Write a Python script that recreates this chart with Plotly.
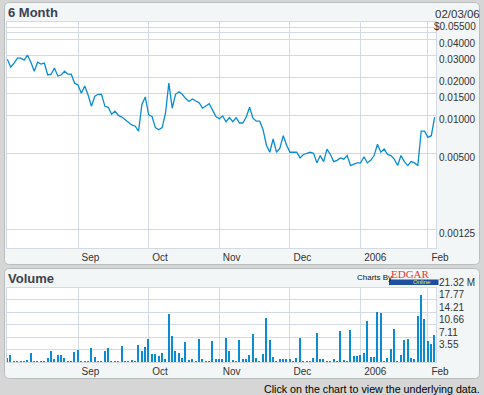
import math
import plotly.graph_objects as go

W, H = 484, 395

# ---- data (trading days Aug 3, 2005 .. Feb 3, 2006) ----
prices = [0.0279,0.0241,0.0260,0.0284,0.0284,0.0274,0.0300,0.0264,0.0224,0.0264,
          0.0255,0.0260,0.0209,0.0212,0.0237,0.0205,0.0209,0.0224,0.0212,0.0212,
          0.0180,0.0174,0.0150,0.0171,0.0145,0.0118,0.0142,0.0147,0.0147,0.0118,
          0.0116,0.0102,0.0108,0.0100,0.0097,0.0092,0.0087,0.0084,0.0082,0.0075,
          0.0122,0.0140,0.0101,0.0098,0.0080,0.0077,0.0080,0.0104,0.0180,0.0114,
          0.0147,0.0154,0.0147,0.0136,0.0129,0.0135,0.0130,0.0126,0.0114,0.0118,
          0.0124,0.0110,0.0098,0.0094,0.0099,0.0089,0.0096,0.0089,0.0096,0.0087,
          0.0087,0.0097,0.0116,0.0095,0.0090,0.0090,0.0077,0.0058,0.0051,0.0065,
          0.0051,0.0055,0.0069,0.0058,0.0051,0.0051,0.0051,0.0046,0.0049,0.0050,
          0.0051,0.0050,0.0042,0.0048,0.0043,0.0054,0.0049,0.0043,0.0044,0.0046,
          0.0045,0.0048,0.0040,0.0041,0.0042,0.0042,0.0047,0.0042,0.0044,0.0048,
          0.0059,0.0051,0.0054,0.0049,0.0048,0.0045,0.0040,0.0048,0.0043,0.0040,
          0.0043,0.0042,0.0040,0.0075,0.0075,0.0067,0.0069,0.0097]

volumes_m = [1.22,2.08,0.46,0.46,0.46,0.46,0.84,2.64,0.46,0.46,
             0.46,0.46,1.22,3.21,1.03,2.08,2.08,1.22,0.46,0.46,
             2.93,3.50,0.46,0.46,0.46,4.07,1.51,0.46,0.46,3.21,
             4.07,0.46,0.46,0.46,4.64,0.46,0.46,0.65,0.46,4.92,
             3.21,4.35,6.63,2.36,2.36,1.79,2.64,0.94,14.02,7.48,
             3.21,2.64,1.22,5.77,0.75,0.94,0.46,6.63,0.94,0.46,
             0.46,6.06,0.94,0.94,0.94,6.91,3.21,0.65,0.46,6.34,
             0.94,0.94,2.08,8.05,1.22,0.46,2.36,12.60,6.34,1.51,
             0.46,0.94,0.94,0.94,0.94,0.46,1.22,6.91,0.46,0.46,
             0.46,1.22,8.34,0.94,0.94,0.46,0.46,0.94,0.46,8.90,
             0.65,0.46,9.19,1.79,1.79,2.08,2.64,11.93,1.51,1.51,
             14.59,14.31,0.46,1.22,3.78,9.47,0.46,2.08,6.34,6.63,
             1.22,0.94,13.45,19.42,12.31,6.06,5.20,7.86]

month_idx = [21, 42, 63, 84, 105, 125]
month_labels = ["Sep", "Oct", "Nov", "Dec", "2006", "Feb"]

price_grid = [0.055, 0.05, 0.045, 0.04, 0.03, 0.02, 0.015, 0.01, 0.005, 0.00125]
price_tick_vals = [0.055, 0.04, 0.03, 0.02, 0.015, 0.01, 0.005, 0.00125]
price_tick_text = ["$0.05500", "0.04000", "0.03000", "0.02000", "0.01500",
                   "0.01000", "0.00500", "0.00125"]

vol_tick_vals = [3.553, 7.107, 10.66, 14.213, 17.767, 21.32]
vol_tick_text = ["3.55", "7.11", "10.66", "14.21", "17.77", "21.32 M"]

date_label = "02/03/06"

# ---- style ----
BLUE = "#0a8cd2"
GRID = "#d3dae4"
PAGE = "#d6d6d6"
PANEL = "#f2f6f6"
PANEL_BORDER = "#b8bdbd"
TXT = "#333333"
TITLE = "#3a4252"
AXFONT = dict(family="Liberation Sans Narrow, Arial Narrow, Liberation Sans, Arial", size=10, color=TXT)

x = list(range(len(prices)))

def px(xp):
    return xp / W

def py(yp):
    return 1 - yp / H

def rrect(x0, y0, x1, y1, r):
    p = lambda a, b: f"{px(a):.5f},{py(b):.5f}"
    return (f"M{p(x0 + r, y0)} L{p(x1 - r, y0)} Q{p(x1, y0)} {p(x1, y0 + r)} "
            f"L{p(x1, y1 - r)} Q{p(x1, y1)} {p(x1 - r, y1)} L{p(x0 + r, y1)} "
            f"Q{p(x0, y1)} {p(x0, y1 - r)} L{p(x0, y0 + r)} Q{p(x0, y0)} {p(x0 + r, y0)} Z")

PL, PR = 7, 436
TOP_Y0, TOP_Y1 = 22, 248
VOL_Y0, VOL_Y1 = 287.5, 362

fig = go.Figure()
fig.add_trace(go.Scatter(x=x, y=prices, mode="lines", line=dict(color=BLUE, width=1.3),
                         xaxis="x", yaxis="y", hoverinfo="skip", showlegend=False))
fig.add_trace(go.Bar(x=x, y=volumes_m, marker=dict(color=BLUE, line=dict(width=0)), width=0.42,
                     xaxis="x2", yaxis="y2", hoverinfo="skip", showlegend=False))

shapes = [
    dict(type="path", path=rrect(4.5, 2.5, 479.5, 264.5, 5), xref="paper", yref="paper",
         fillcolor=PANEL, line=dict(color=PANEL_BORDER, width=1), layer="below"),
    dict(type="path", path=rrect(4.5, 268.5, 479.5, 378.5, 5), xref="paper", yref="paper",
         fillcolor=PANEL, line=dict(color=PANEL_BORDER, width=1), layer="below"),
    dict(type="rect", x0=px(PL), x1=px(PR), y0=py(TOP_Y1), y1=py(TOP_Y0), xref="paper", yref="paper",
         fillcolor="white", line=dict(width=0), layer="below"),
    dict(type="rect", x0=px(PL), x1=px(PR), y0=py(VOL_Y1), y1=py(VOL_Y0), xref="paper", yref="paper",
         fillcolor="white", line=dict(width=0), layer="below"),
    # EDGAR Online bar
    dict(type="rect", x0=px(389), x1=px(438.5), y0=py(285), y1=py(279.5), xref="paper", yref="paper",
         fillcolor="#1e4f9e", line=dict(width=0), layer="above"),
]

annotations = [
    dict(text="<b>6 Month</b>", x=px(5.5), y=py(12.5), xref="paper", yref="paper",
         xanchor="left", yanchor="middle", showarrow=False,
         font=dict(family="Liberation Sans, Arial", size=13, color=TITLE)),
    dict(text=date_label, x=px(482), y=py(14.5), xref="paper", yref="paper",
         xanchor="right", yanchor="middle", showarrow=False,
         font=dict(family="Liberation Sans, Arial", size=11.5, color=TXT)),
    dict(text="<b>Volume</b>", x=px(5.5), y=py(278), xref="paper", yref="paper",
         xanchor="left", yanchor="middle", showarrow=False,
         font=dict(family="Liberation Sans, Arial", size=13, color=TITLE)),
    dict(text="Charts By", x=px(355), y=py(277.5), xref="paper", yref="paper",
         xanchor="left", yanchor="middle", showarrow=False,
         font=dict(family="Liberation Sans, Arial", size=8, color="#111111")),
    dict(text="EDGAR", x=px(388.5), y=py(273.5), xref="paper", yref="paper",
         xanchor="left", yanchor="middle", showarrow=False,
         font=dict(family="Liberation Serif, Times New Roman", size=11, color="#e23b3b")),
    dict(text="Online", x=px(433), y=py(282.3), xref="paper", yref="paper",
         xanchor="right", yanchor="middle", showarrow=False,
         font=dict(family="Liberation Sans, Arial", size=6, color="#e6e640")),
    dict(text="Click on the chart to view the underlying data.", x=px(482), y=py(388.5),
         xref="paper", yref="paper", xanchor="right", yanchor="middle", showarrow=False,
         font=dict(family="Liberation Sans, Arial", size=10.7, color="#000000")),
]
for v, t in zip(price_tick_vals, price_tick_text):
    annotations.append(dict(text=t, x=px(477.5), y=math.log10(v), xref="paper", yref="y",
                            xanchor="right", yanchor="middle", yshift=-4.5, showarrow=False,
                            font=AXFONT))

xcommon = dict(domain=[px(PL), px(PR)], range=[-0.1, 127.4], tickmode="array",
               tickvals=month_idx, ticktext=month_labels, showgrid=True, gridcolor=GRID,
               gridwidth=1, zeroline=False, ticks="", showline=True, linecolor=GRID,
               mirror=True, ticklabelposition="outside right", ticklabelshift=3,
               tickfont=AXFONT, fixedrange=True, automargin=False)

fig.update_layout(
    width=W, height=H, autosize=False,
    margin=dict(l=0, r=0, t=0, b=0, pad=0, autoexpand=False),
    paper_bgcolor=PAGE, plot_bgcolor="rgba(0,0,0,0)",
    showlegend=False, bargap=0,
    xaxis=dict(anchor="y", **xcommon),
    xaxis2=dict(anchor="y2", matches="x", **xcommon),
    yaxis=dict(domain=[py(TOP_Y1), py(TOP_Y0)], type="log",
               range=[-3.0515, math.log10(0.055)], tickmode="array", tickvals=price_grid,
               showticklabels=False, showgrid=True, gridcolor=GRID, zeroline=False,
               ticks="", showline=True, linecolor=GRID, mirror=True, side="right",
               anchor="x", fixedrange=True, automargin=False),
    yaxis2=dict(domain=[py(VOL_Y1), py(VOL_Y0)], range=[0, 21.32], tickmode="array",
                tickvals=vol_tick_vals, ticktext=vol_tick_text, showgrid=True,
                gridcolor=GRID, zeroline=False, ticks="", showline=True, linecolor=GRID,
                mirror=True, side="right", anchor="x2", ticklabelshift=-5,
                tickfont=AXFONT, fixedrange=True, automargin=False),
    shapes=shapes,
    annotations=annotations,
)

post = ("var gd=document.getElementById('{plot_id}');"
        "gd.style.position='fixed';gd.style.left='0px';gd.style.top='0px';"
        "document.documentElement.style.margin='0';document.documentElement.style.overflow='hidden';"
        "document.body.style.margin='0';document.body.style.overflow='hidden';"
        "document.body.style.background='%s';" % PAGE)

fig.write_html("out.html", config={"displayModeBar": False, "responsive": False},
               post_script=post)
